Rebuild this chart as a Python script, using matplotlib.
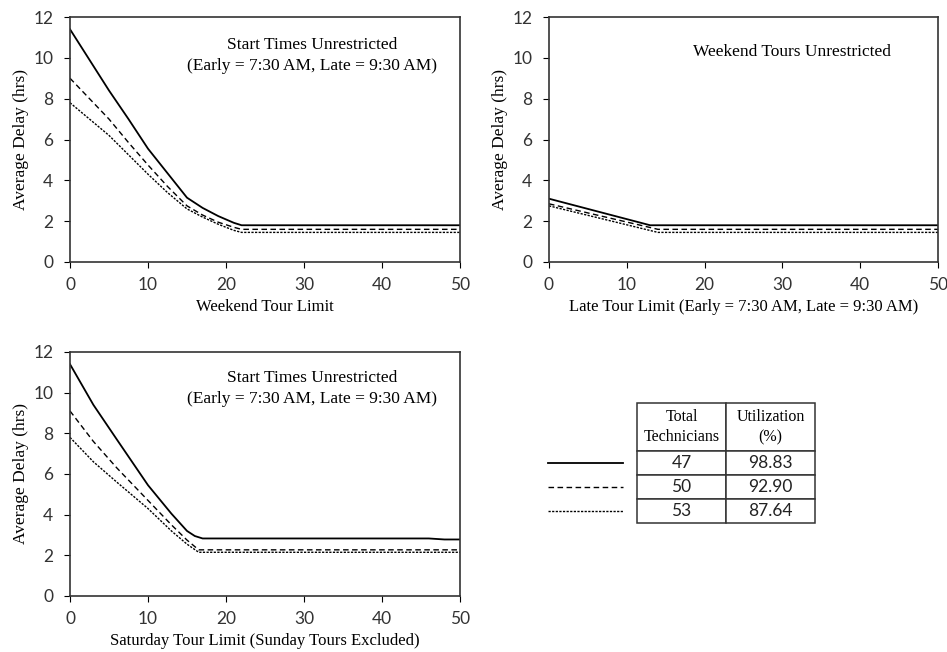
import numpy as np
import matplotlib.pyplot as plt

# ---------------------------------------------------------------------------
# data
# ---------------------------------------------------------------------------
technicians = ['47', '50', '53']
utilization = ['98.83', '92.90', '87.64']

# panel 1: weekend tour limit
wk_x47 = [0, 2.5, 5, 7.5, 10, 12.5, 15, 17, 19, 21, 22, 50]
wk_47 = [11.4, 9.9, 8.4, 7.0, 5.55, 4.35, 3.15, 2.65, 2.25, 1.92, 1.8, 1.8]
wk_x50 = [0, 2.5, 5, 7.5, 10, 12.5, 15, 17, 19, 21, 22, 50]
wk_50 = [9.0, 8.0, 7.0, 5.85, 4.75, 3.7, 2.75, 2.3, 1.95, 1.7, 1.6, 1.6]
wk_x53 = [0, 2.5, 5, 7.5, 10, 12.5, 15, 17, 19, 21, 22, 50]
wk_53 = [7.8, 7.0, 6.2, 5.25, 4.3, 3.4, 2.6, 2.2, 1.85, 1.55, 1.45, 1.45]

# panel 2: late tour limit
lt_x47 = [0, 13, 50]
lt_47 = [3.1, 1.8, 1.8]
lt_x50 = [0, 14, 50]
lt_50 = [2.85, 1.6, 1.6]
lt_x53 = [0, 14, 50]
lt_53 = [2.75, 1.45, 1.45]

# panel 3: saturday tour limit
st_x47 = [0, 3, 6, 10, 13, 15, 16, 17, 46, 48, 50]
st_47 = [11.4, 9.4, 7.7, 5.45, 4.05, 3.2, 2.95, 2.83, 2.83, 2.78, 2.78]
st_x50 = [0, 3, 6, 10, 13, 15, 16.5, 50]
st_50 = [9.1, 7.6, 6.3, 4.7, 3.5, 2.75, 2.27, 2.27]
st_x53 = [0, 3, 6, 10, 13, 15, 16.5, 50]
st_53 = [7.8, 6.6, 5.6, 4.3, 3.2, 2.55, 2.15, 2.15]

SERIF = 'Liberation Serif'
SANS = 'Lato'

styles = [
    dict(color='black', lw=1.3, linestyle='-'),
    dict(color='black', lw=1.0, linestyle=(0, (4, 2.5))),
    dict(color='black', lw=1.0, linestyle=(0, (1.6, 1.0))),
]

fig = plt.figure(figsize=(9.47, 6.52), dpi=100)
W, H = 947, 652


def make_ax(x0, y_top, w, h):
    return fig.add_axes([x0 / W, (H - y_top - h) / H, w / W, h / H])


def style_ax(ax, xlabel, note, note_xy):
    ax.set_xlim(0, 50)
    ax.set_ylim(0, 12)
    ax.set_xticks(range(0, 51, 10))
    ax.set_yticks(range(0, 13, 2))
    ax.tick_params(axis='x', direction='out', length=4, width=0.8,
                   labelsize=12.5, pad=7)
    ax.tick_params(axis='y', direction='out', length=4, width=0.8,
                   labelsize=12.5, pad=8)
    for lab in ax.get_xticklabels() + ax.get_yticklabels():
        lab.set_fontfamily(SANS)
        lab.set_color('#333333')
    for sp in ax.spines.values():
        sp.set_linewidth(1.2)
        sp.set_color('#333333')
    ax.set_xlabel(xlabel, fontfamily=SERIF, fontsize=12, labelpad=4)
    ax.set_ylabel('Average Delay (hrs)', fontfamily=SERIF, fontsize=12.5, labelpad=3)
    ax.text(note_xy[0], note_xy[1], note, transform=ax.transAxes, ha='center',
            va='center', fontfamily=SERIF, fontsize=12.5, linespacing=1.4)


ax1 = make_ax(70, 17, 390, 245)
for xs, ys, st in zip([wk_x47, wk_x50, wk_x53], [wk_47, wk_50, wk_53], styles):
    ax1.plot(xs, ys, **st)
style_ax(ax1, 'Weekend Tour Limit',
         'Start Times Unrestricted\n(Early = 7:30 AM, Late = 9:30 AM)',
         (0.62, 0.843))

ax2 = make_ax(549, 17, 389, 245)
for xs, ys, st in zip([lt_x47, lt_x50, lt_x53], [lt_47, lt_50, lt_53], styles):
    ax2.plot(xs, ys, **st)
style_ax(ax2, 'Late Tour Limit (Early = 7:30 AM, Late = 9:30 AM)',
         'Weekend Tours Unrestricted', (0.625, 0.857))

ax3 = make_ax(70, 352, 390, 244)
for xs, ys, st in zip([st_x47, st_x50, st_x53], [st_47, st_50, st_53], styles):
    ax3.plot(xs, ys, **st)
style_ax(ax3, 'Saturday Tour Limit (Sunday Tours Excluded)',
         'Start Times Unrestricted\n(Early = 7:30 AM, Late = 9:30 AM)',
         (0.62, 0.85))

# legend table
tax = make_ax(540, 403, 280, 120)
tax.axis('off')
tax.set_xlim(0, 280)
tax.set_ylim(120, 0)
cell_text = [['Total\nTechnicians', 'Utilization\n(%)']] + \
    [[t, u] for t, u in zip(technicians, utilization)]
tbl = tax.table(cellText=cell_text, cellLoc='center',
                bbox=[97 / 280, 0, 178 / 280, 1])
tbl.auto_set_font_size(False)
row_h = [48 / 120, 24 / 120, 24 / 120, 24 / 120]
for (r, c), cell in tbl.get_celld().items():
    cell.set_linewidth(1.1)
    cell.set_edgecolor('#333333')
    cell.set_height(row_h[r])
    cell.set_width(89 / 280)
    txt = cell.get_text()
    if r == 0:
        txt.set_fontfamily(SERIF)
        txt.set_fontsize(11.5)
        txt.set_linespacing(1.35)
    else:
        txt.set_fontfamily(SANS)
        txt.set_fontsize(12.5)
        txt.set_color('#222222')
for i, st in enumerate(styles):
    yc = 48 + 24 * i + 12
    tax.plot([8, 83], [yc, yc], **st, clip_on=False)

fig.savefig('out.png', dpi=100)
